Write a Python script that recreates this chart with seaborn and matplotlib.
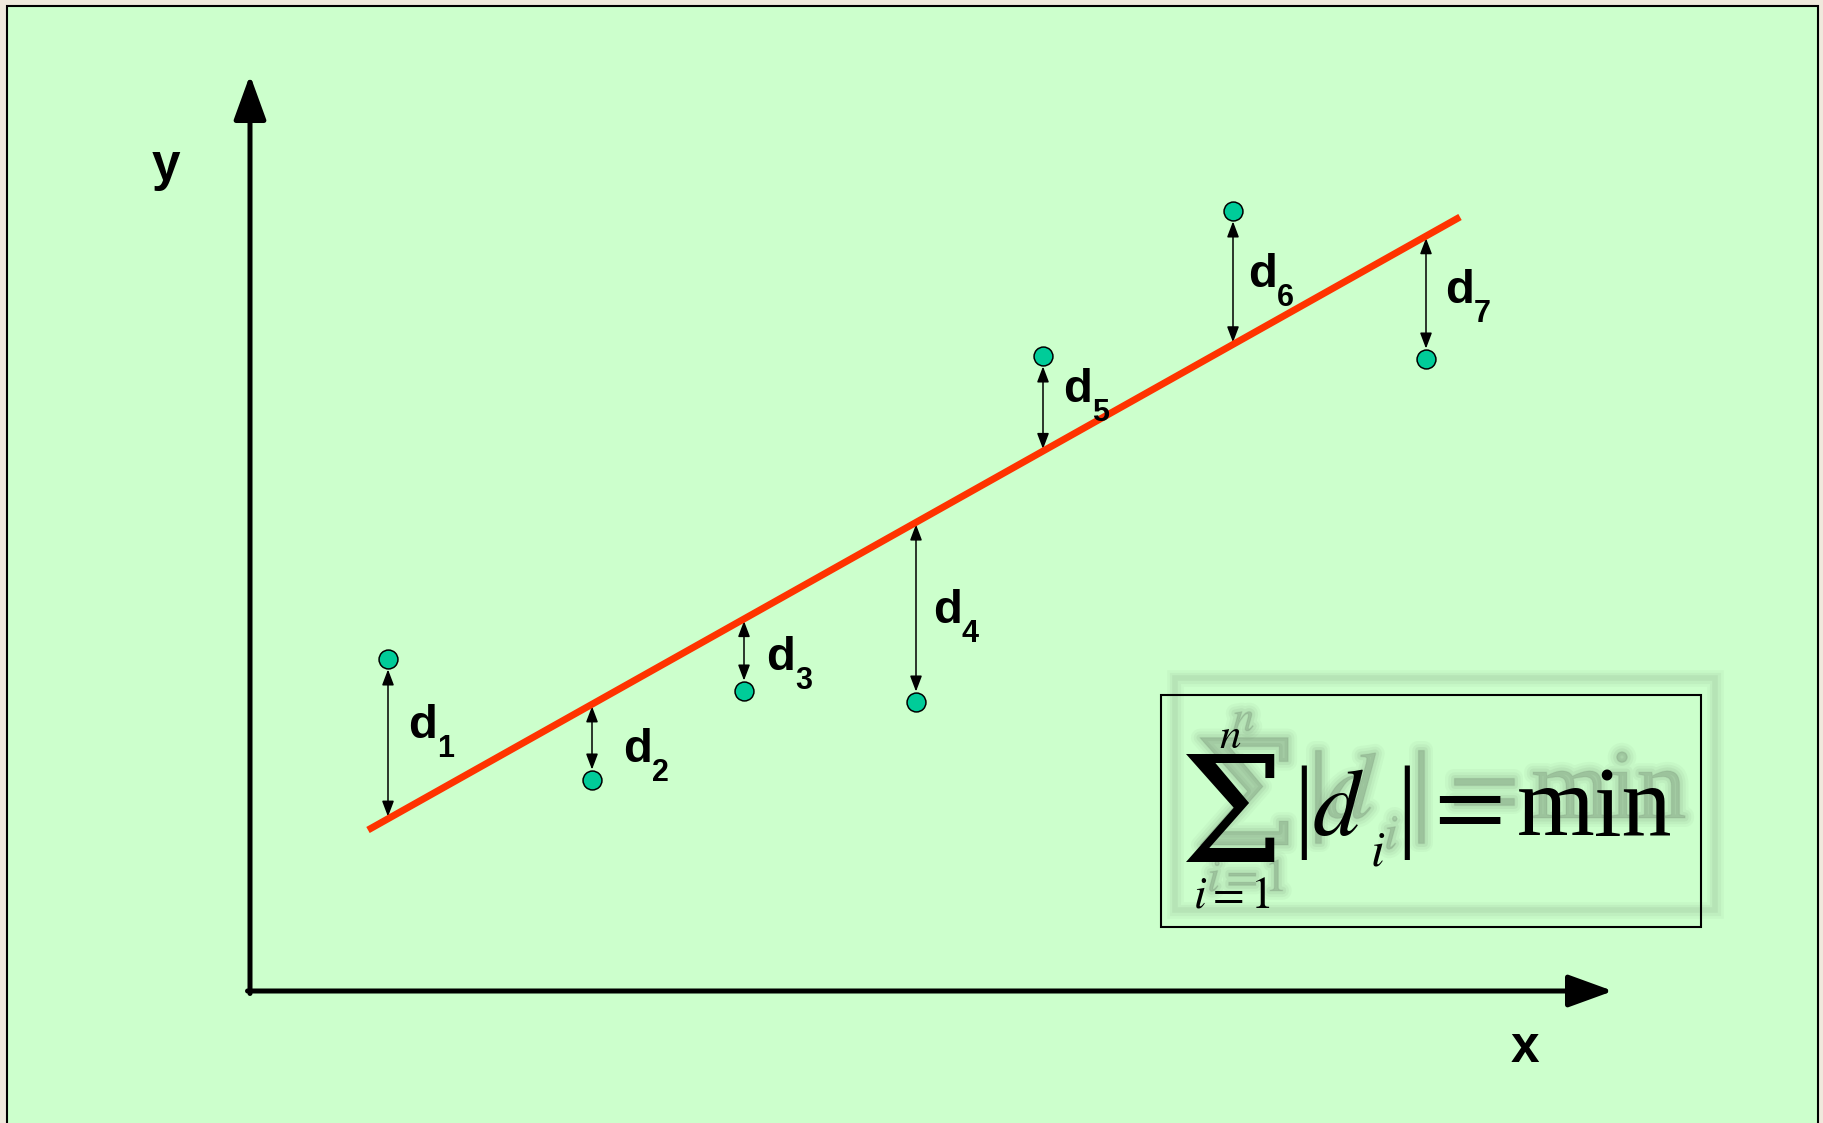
import numpy as np
import matplotlib
matplotlib.use("Agg")
import matplotlib.pyplot as plt
import matplotlib.patheffects as pe
import seaborn as sns
from matplotlib.patches import Rectangle

# ---------------- data (units of 100 px, origin at the axes corner) ----------------
point_names = ["1", "2", "3", "4", "5", "6", "7"]
pt_x = [1.38, 3.42, 4.94, 6.66, 7.93, 9.83, 11.76]
pt_y = [3.32, 2.11, 3.00, 2.89, 6.35, 7.80, 6.32]
fit_x = [1.18, 12.10]
fit_y = [1.61, 7.74]

# ---------------- layout (pixel positions in the 1823x1123 canvas) ----------------
W, H = 1823, 1123
OX, OY = 250, 991          # axes corner in pixels
label_px = [(408, 738), (623, 762), (766, 670), (933, 623),
            (1063, 402), (1248, 287), (1445, 303)]
SUB_DX, SUB_DY = 29, 19


def P(px, py):
    """pixel position -> data coordinates"""
    return ((px - OX) / 100.0, (OY - py) / 100.0)


sns.set_theme(style="white")
plt.rcParams["font.family"] = ["Liberation Sans", "DejaVu Sans"]
plt.rcParams["mathtext.fontset"] = "stix"
plt.rcParams["text.color"] = "black"

fig = plt.figure(figsize=(W / 100, H / 100), dpi=100, facecolor="#efe9dc")
ax = fig.add_axes([0, 0, 1, 1])
x0, y0 = P(0, H)
x1, y1 = P(W, 0)
ax.set_xlim(x0, x1)
ax.set_ylim(y0, y1)
ax.axis("off")

# green panel
px0, py0 = P(7, 1135)
px1, py1 = P(1818, 6)
ax.add_patch(Rectangle((px0, py0), px1 - px0, py1 - py0, facecolor="#ccffcc",
                       edgecolor="black", lw=1.5, zorder=0, clip_on=False))

# axes arrows
ax.annotate("", xy=P(OX, 75), xytext=P(OX, OY + 2.5),
            arrowprops=dict(arrowstyle="-|>,head_length=2.75,head_width=1.0",
                            lw=3.6, color="black", shrinkA=0, shrinkB=0,
                            mutation_scale=10), zorder=2)
ax.annotate("", xy=P(1613, OY), xytext=P(OX - 2.5, OY),
            arrowprops=dict(arrowstyle="-|>,head_length=2.75,head_width=1.0",
                            lw=3.6, color="black", shrinkA=0, shrinkB=0,
                            mutation_scale=10), zorder=2)
ax.text(*P(166, 180), "y", fontsize=37, fontweight="bold", ha="center", va="baseline")
ax.text(*P(1525, 1062), "x", fontsize=37, fontweight="bold", ha="center", va="baseline")

# fitted line
sns.lineplot(x=fit_x, y=fit_y, color="#ff3300", lw=5, ax=ax, zorder=3,
             solid_capstyle="butt")

# residual arrows
for xv, yv in zip(pt_x, pt_y):
    yl = float(np.interp(xv, fit_x, fit_y))
    ax.annotate("", xy=(xv, yv), xytext=(xv, yl),
                arrowprops=dict(arrowstyle="<|-|>,head_length=0.95,head_width=0.36",
                                color="black", lw=1.1, shrinkA=1.5, shrinkB=7.5,
                                mutation_scale=10), zorder=2)

# points
sns.scatterplot(x=pt_x, y=pt_y, s=185, color="#00cc99", edgecolor="black",
                linewidth=1.1, zorder=5, ax=ax)

# labels d_i
for name, (lx, ly) in zip(point_names, label_px):
    ax.text(*P(lx, ly), "d", fontsize=34, fontweight="bold", ha="left", va="baseline")
    ax.text(*P(lx + SUB_DX, ly + SUB_DY), name, fontsize=22, fontweight="bold",
            ha="left", va="baseline")


# formula box with a blurred shadow
def formula(dx=0, dy=0, color="black", alpha=1.0, z=6, effects=None):
    kw = dict(color=color, alpha=alpha, zorder=z, path_effects=effects)
    ax.text(*P(1232 + dx, 862 + dy), "Σ", fontsize=106, family="DejaVu Serif",
            ha="center", va="baseline", **kw)
    ax.text(*P(1230 + dx, 748 + dy), r"$n$", fontsize=31, ha="center",
            va="baseline", **kw)
    ax.text(*P(1232 + dx, 908 + dy), r"$i{=}1$", fontsize=33, ha="center",
            va="baseline", **kw)
    ax.text(*P(1304 + dx, 838 + dy), "|", fontsize=74, family="Liberation Serif",
            ha="center", va="baseline", **kw)
    ax.text(*P(1407 + dx, 838 + dy), "|", fontsize=74, family="Liberation Serif",
            ha="center", va="baseline", **kw)
    ax.text(*P(1312 + dx, 835 + dy), r"$d$", fontsize=68, ha="left",
            va="baseline", **kw)
    ax.text(*P(1370 + dx, 866 + dy), r"$i$", fontsize=36, ha="left",
            va="baseline", **kw)
    ax.text(*P(1461 + dx, 835 + dy), r"$=$", fontsize=74, ha="center",
            va="baseline", **kw)
    ax.text(*P(1517 + dx, 835 + dy), "min", fontsize=72, family="Liberation Serif",
            ha="left", va="baseline", **kw)


SHX, SHY = 14, -17
SHC = "#4a5a4a"
blur = [pe.Stroke(linewidth=13, foreground=SHC, alpha=0.04),
        pe.Stroke(linewidth=9, foreground=SHC, alpha=0.05),
        pe.Stroke(linewidth=5, foreground=SHC, alpha=0.07),
        pe.Stroke(linewidth=1, foreground=SHC, alpha=0.09)]
formula(SHX, SHY, color=SHC, alpha=0.1, z=4, effects=blur)
bx0, by0 = P(1161 + SHX, 927 + SHY)
bx1, by1 = P(1701 + SHX, 695 + SHY)
ax.add_patch(Rectangle((bx0, by0), bx1 - bx0, by1 - by0, fill=False,
                       edgecolor=SHC, lw=2, zorder=4,
                       path_effects=[pe.Stroke(linewidth=12, foreground=SHC, alpha=0.04),
                                     pe.Stroke(linewidth=8, foreground=SHC, alpha=0.05),
                                     pe.Stroke(linewidth=4, foreground=SHC, alpha=0.07)]))

bx0, by0 = P(1161, 927)
bx1, by1 = P(1701, 695)
ax.add_patch(Rectangle((bx0, by0), bx1 - bx0, by1 - by0, fill=False,
                       edgecolor="black", lw=1.5, zorder=6))
formula()

fig.savefig("out.png", dpi=100, facecolor=fig.get_facecolor())
